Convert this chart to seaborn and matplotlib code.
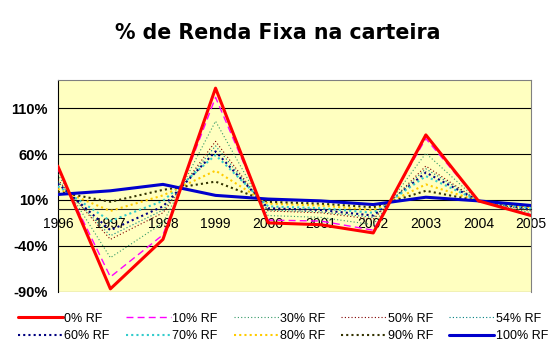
import pandas as pd
import matplotlib
matplotlib.use("Agg")
import matplotlib.pyplot as plt
import seaborn as sns

# anos e retornos (%) por % de renda fixa na carteira
years = [1996, 1997, 1998, 1999, 2000, 2001, 2002, 2003, 2004, 2005]
rf0 = [47, -87, -33, 132, -15, -17, -26, 81, 9, -7]
rf10 = [44, -74, -28, 122, -12, -13, -23, 77, 9, -6]
rf30 = [38, -53, -15, 96, -7, -9, -17, 61, 9, -4]
rf50 = [32, -33, -4, 74, -2, -4, -11, 47, 9, -2]
rf54 = [30, -29, -1, 69, -1, -3, -9, 44, 9, -1]
rf60 = [28, -23, 3, 63, 1, -1, -7, 40, 9, 0]
rf70 = [25, -13, 9, 59, 3, 1, -4, 36, 9, 1]
rf80 = [22, -2, 15, 42, 6, 4, -1, 27, 9, 2]
rf90 = [19, 8, 21, 30, 8, 6, 2, 20, 9, 3]
rf100 = [16, 20, 27, 15, 11, 9, 5, 13, 9, 4]

names = ["0% RF", "10% RF", "30% RF", "50% RF", "54% RF",
         "60% RF", "70% RF", "80% RF", "90% RF", "100% RF"]
series = [rf0, rf10, rf30, rf50, rf54, rf60, rf70, rf80, rf90, rf100]
yticks = [-90, -40, 10, 60, 110]

colors = ["#FF0000", "#FF00FF", "#339966", "#800000", "#008080",
          "#000080", "#33CCCC", "#FFCC00", "#333300", "#0000CC"]
styles = ["-", (0, (5, 3)), (0, (1, 2)), (0, (1, 2)), (0, (1, 2)),
          (0, (1, 1.5)), (0, (1, 1.5)), (0, (1, 1.5)), (0, (1, 1.5)), "-"]
widths = [2.2, 1.0, 0.8, 0.8, 0.8, 1.5, 1.5, 1.5, 1.5, 2.2]

sns.set_style("white")
plt.rcParams["font.family"] = ["Liberation Sans", "DejaVu Sans"]
plt.rcParams["text.color"] = "black"
plt.rcParams["xtick.color"] = "black"
plt.rcParams["ytick.color"] = "black"

fig = plt.figure(figsize=(5.56, 3.6), dpi=100)
ax = fig.add_axes([0.104, 0.19, 0.851, 0.588])
ax.set_facecolor("#FFFFC0")

order = list(range(1, 9)) + [9, 0]
for i in order:
    df = pd.DataFrame({"ano": years, "ret": series[i]})
    sns.lineplot(data=df, x="ano", y="ret", ax=ax, color=colors[i],
                 linestyle=styles[i], linewidth=widths[i], label=names[i],
                 zorder=3 + (i in (0, 9)))

ax.set_xlim(1996, 2005)
ax.set_ylim(-90, 141)
ax.set_yticks(yticks)
ax.set_yticklabels([f"{t}%" for t in yticks], fontsize=10.5, fontweight="bold")
ax.set_xticks(years)
ax.set_xticklabels([str(y) for y in years], fontsize=8.5)
for t in yticks:
    ax.axhline(t, color="black", linewidth=0.8, zorder=1)
ax.spines["bottom"].set_position(("data", 0))
ax.spines["bottom"].set_linewidth(0.8)
ax.spines["left"].set_color("black")
ax.spines["left"].set_linewidth(0.8)
for s in ["top", "right"]:
    ax.spines[s].set_color("#808080")
ax.tick_params(axis="x", direction="inout", length=5, pad=3)
ax.tick_params(axis="y", length=4, direction="out", pad=3)
ax.set_xlabel("")
ax.set_ylabel("")
ax.get_legend().remove()

# legenda em linhas: reordenar para preenchimento por coluna
handles, labels = ax.get_legend_handles_labels()
hmap = dict(zip(labels, handles))
leg_order = [0, 5, 1, 6, 2, 7, 3, 8, 4, 9]
fig.legend([hmap[names[k]] for k in leg_order], [names[k] for k in leg_order],
           ncol=5, loc="lower left", bbox_to_anchor=(0.012, 0.018),
           frameon=False, fontsize=9, handlelength=3.6, handletextpad=0.1,
           columnspacing=1.3, labelspacing=0.45)

fig.suptitle("% de Renda Fixa na carteira", family="DejaVu Sans",
             fontweight="bold", fontsize=14.8, y=0.935)

fig.savefig("out.png", dpi=100, facecolor="white")
